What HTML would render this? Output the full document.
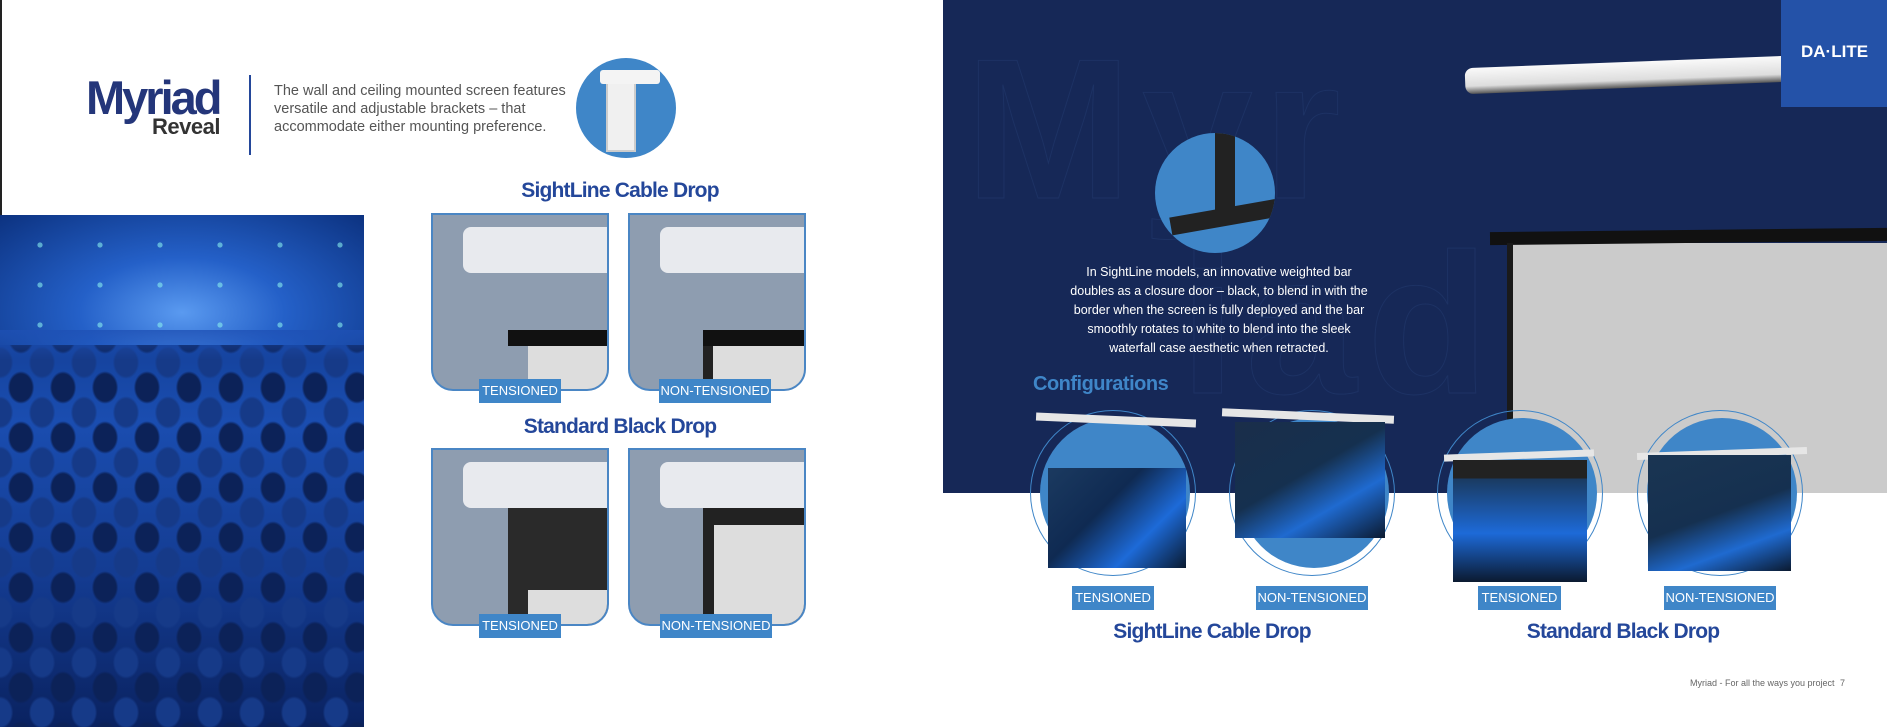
<!DOCTYPE html>
<html><head><meta charset="utf-8"><style>
*{margin:0;padding:0;box-sizing:border-box}
body{width:1887px;height:727px;position:relative;overflow:hidden;background:#fff;font-family:"Liberation Sans",sans-serif}
.a{position:absolute}
.lbl{position:absolute;background:#3f86c8;color:#fff;font-size:13px;text-align:center;line-height:24px;height:24px}
.card{position:absolute;width:178px;height:178px;border:2px solid #4a86c4;border-radius:0 0 22px 22px;background:#8e9db0;overflow:hidden}
.ttl{position:absolute;color:#24479a;font-weight:bold;font-size:21px;text-align:center;letter-spacing:-0.8px}
.ring{position:absolute;border-radius:50%;border:1.5px solid #3f86c8}
.disc{position:absolute;border-radius:50%;background:#3f86c8}
</style></head><body>
<div class="a" style="left:0;top:0;width:2px;height:215px;background:#222"></div>
<div class="a" style="left:86px;top:74px;font-size:47px;font-weight:bold;color:#24367a;letter-spacing:-3px;line-height:48px">Myriad</div>
<div class="a" style="left:120px;top:114px;width:100px;text-align:right;font-size:22px;font-weight:bold;color:#333;letter-spacing:-0.5px">Reveal</div>
<div class="a" style="left:249px;top:75px;width:2px;height:80px;background:#24479a"></div>
<div class="a" style="left:274px;top:82px;font-size:14.5px;line-height:18px;color:#555;width:300px">The wall and ceiling mounted screen features versatile and adjustable brackets – that accommodate either mounting preference.</div>
<div class="disc" style="left:576px;top:58px;width:100px;height:100px"></div>
<div class="a" style="left:606px;top:72px;width:30px;height:80px;background:#f0f0f0;border:2px solid #ccc"></div>
<div class="a" style="left:600px;top:70px;width:60px;height:14px;background:#f4f4f4;border-radius:3px"></div>
<div class="ttl" style="left:500px;top:179px;width:240px">SightLine Cable Drop</div>
<div class="ttl" style="left:500px;top:415px;width:240px">Standard Black Drop</div>
<div class="a" style="left:0;top:215px;width:364px;height:512px;background:
radial-gradient(ellipse 17px 21px at 50% 45%,#0c2258 65%,transparent 78%) 0 0/42px 50px,
radial-gradient(ellipse 17px 21px at 50% 45%,#163a88 65%,transparent 78%) 21px 25px/42px 50px,
linear-gradient(#0b2e78,#1a4db0 40%,#143c92 70%,#0a2260)"></div>
<div class="a" style="left:0;top:215px;width:364px;height:130px;background:radial-gradient(ellipse at 50% 75%,#5a9af0 0,#2460c8 40%,#0c3280 100%)"></div>
<div class="a" style="left:0;top:330px;width:364px;height:30px;background:linear-gradient(rgba(30,80,180,.8),rgba(30,80,180,0))"></div>
<div class="a" style="left:0;top:215px;width:364px;height:120px;background:radial-gradient(circle 4px,#8ee 0 60%,transparent 70%) 10px 10px/60px 40px;opacity:.6"></div>

<div class="card" style="left:431px;top:213px"><div class="a" style="left:30px;top:12px;width:150px;height:46px;background:#e8eaee;border-radius:8px 0 0 8px"></div><div class="a" style="left:75px;top:115px;width:105px;height:16px;background:#111"></div><div class="a" style="left:95px;top:131px;width:85px;height:50px;background:#ddd"></div></div>
<div class="card" style="left:628px;top:213px"><div class="a" style="left:30px;top:12px;width:150px;height:46px;background:#e8eaee;border-radius:8px 0 0 8px"></div><div class="a" style="left:73px;top:115px;width:107px;height:16px;background:#111"></div><div class="a" style="left:73px;top:131px;width:10px;height:50px;background:#222"></div><div class="a" style="left:83px;top:131px;width:97px;height:50px;background:#ddd"></div></div>
<div class="card" style="left:431px;top:448px"><div class="a" style="left:30px;top:12px;width:150px;height:46px;background:#e8eaee;border-radius:8px 0 0 8px"></div><div class="a" style="left:75px;top:58px;width:105px;height:120px;background:#2a2a2a"></div><div class="a" style="left:95px;top:140px;width:85px;height:40px;background:#ddd"></div></div>
<div class="card" style="left:628px;top:448px"><div class="a" style="left:30px;top:12px;width:150px;height:46px;background:#e8eaee;border-radius:8px 0 0 8px"></div><div class="a" style="left:73px;top:58px;width:107px;height:120px;background:#222"></div><div class="a" style="left:84px;top:75px;width:96px;height:103px;background:#ddd"></div></div>
<div class="lbl" style="left:479px;top:379px;width:82px">TENSIONED</div>
<div class="lbl" style="left:659px;top:379px;width:112px">NON-TENSIONED</div>
<div class="lbl" style="left:479px;top:614px;width:82px">TENSIONED</div>
<div class="lbl" style="left:660px;top:614px;width:112px">NON-TENSIONED</div>

<div class="a" style="left:943px;top:0;width:944px;height:493px;background:#162857"></div>
<div class="a" style="left:965px;top:15px;font-size:200px;font-weight:bold;color:transparent;-webkit-text-stroke:1px #1d3264;letter-spacing:10px">Myr</div>
<div class="a" style="left:1180px;top:210px;font-size:200px;font-weight:bold;color:transparent;-webkit-text-stroke:1px #1d3264;letter-spacing:10px">iad</div>
<div class="a" style="left:1513px;top:243px;width:374px;height:250px;background:#cbcbcb"></div>
<div class="a" style="left:1490px;top:230px;width:397px;height:13px;background:#111;transform:rotate(-0.6deg)"></div>
<div class="a" style="left:1507px;top:243px;width:6px;height:250px;background:#1a1a1a"></div>
<div class="a" style="left:1465px;top:62px;width:320px;height:26px;background:linear-gradient(#fafafa,#ddd 70%,#555);border-radius:8px 0 0 8px;transform:rotate(-2.2deg)"></div>
<div class="a" style="left:1781px;top:0;width:106px;height:107px;background:#2452a8;color:#fff;font-weight:bold;font-size:17px;padding:42px 0 0 20px">DA·LITE</div>
<div class="disc" style="left:1155px;top:133px;width:120px;height:120px;overflow:hidden"><div class="a" style="left:60px;top:0;width:20px;height:80px;background:#222"></div><div class="a" style="left:15px;top:75px;width:110px;height:18px;background:#222;transform:rotate(-10deg)"></div></div>
<div class="a" style="left:1069px;top:263px;width:300px;text-align:center;color:#fff;font-size:12.5px;line-height:19px">In SightLine models, an innovative weighted bar doubles as a closure door – black, to blend in with the border when the screen is fully deployed and the bar smoothly rotates to white to blend into the sleek waterfall case aesthetic when retracted.</div>
<div class="a" style="left:1033px;top:373px;color:#3f86c8;font-size:20px;font-weight:bold;letter-spacing:-0.5px">Configurations</div>

<div class="ring" style="left:1030px;top:410px;width:166px;height:166px"></div><div class="disc" style="left:1040px;top:418px;width:150px;height:150px"></div>
<div class="ring" style="left:1229px;top:410px;width:166px;height:166px"></div><div class="disc" style="left:1239px;top:418px;width:150px;height:150px"></div>
<div class="ring" style="left:1437px;top:410px;width:166px;height:166px"></div><div class="disc" style="left:1447px;top:418px;width:150px;height:150px"></div>
<div class="ring" style="left:1637px;top:410px;width:166px;height:166px"></div><div class="disc" style="left:1647px;top:418px;width:150px;height:150px"></div>

<div class="a" style="left:1036px;top:416px;width:160px;height:8px;background:#e6e6e6;transform:rotate(2.5deg)"></div>
<div class="a" style="left:1048px;top:468px;width:138px;height:100px;background:linear-gradient(135deg,#1b3a60,#0f2a52 40%,#1d6ad8 70%,#0a1a30)"></div>
<div class="a" style="left:1222px;top:412px;width:172px;height:8px;background:#e6e6e6;transform:rotate(2.5deg)"></div>
<div class="a" style="left:1235px;top:422px;width:150px;height:116px;background:linear-gradient(150deg,#1a2e4a,#15304f 45%,#1f6ad0 70%,#0b1a30)"></div>
<div class="a" style="left:1444px;top:452px;width:150px;height:7px;background:#e6e6e6;transform:rotate(-2deg)"></div>
<div class="a" style="left:1453px;top:460px;width:134px;height:122px;background:linear-gradient(#222 0 15%,#1a3a60 15%,#1d6ad8 60%,#0b1a30)"></div>
<div class="a" style="left:1637px;top:450px;width:170px;height:7px;background:#e6e6e6;transform:rotate(-2deg)"></div>
<div class="a" style="left:1648px;top:455px;width:143px;height:116px;background:linear-gradient(160deg,#1a3552,#153050 50%,#1f6ad0 75%,#0b1a30)"></div>

<div class="lbl" style="left:1072px;top:586px;width:82px">TENSIONED</div>
<div class="lbl" style="left:1256px;top:586px;width:112px">NON-TENSIONED</div>
<div class="lbl" style="left:1478px;top:586px;width:83px">TENSIONED</div>
<div class="lbl" style="left:1664px;top:586px;width:112px">NON-TENSIONED</div>
<div class="ttl" style="left:1092px;top:620px;width:240px">SightLine Cable Drop</div>
<div class="ttl" style="left:1503px;top:620px;width:240px">Standard Black Drop</div>
<div class="a" style="left:1690px;top:678px;font-size:9px;color:#666">Myriad - For all the ways you project</div>
<div class="a" style="left:1840px;top:678px;font-size:9px;color:#666">7</div>
</body></html>
